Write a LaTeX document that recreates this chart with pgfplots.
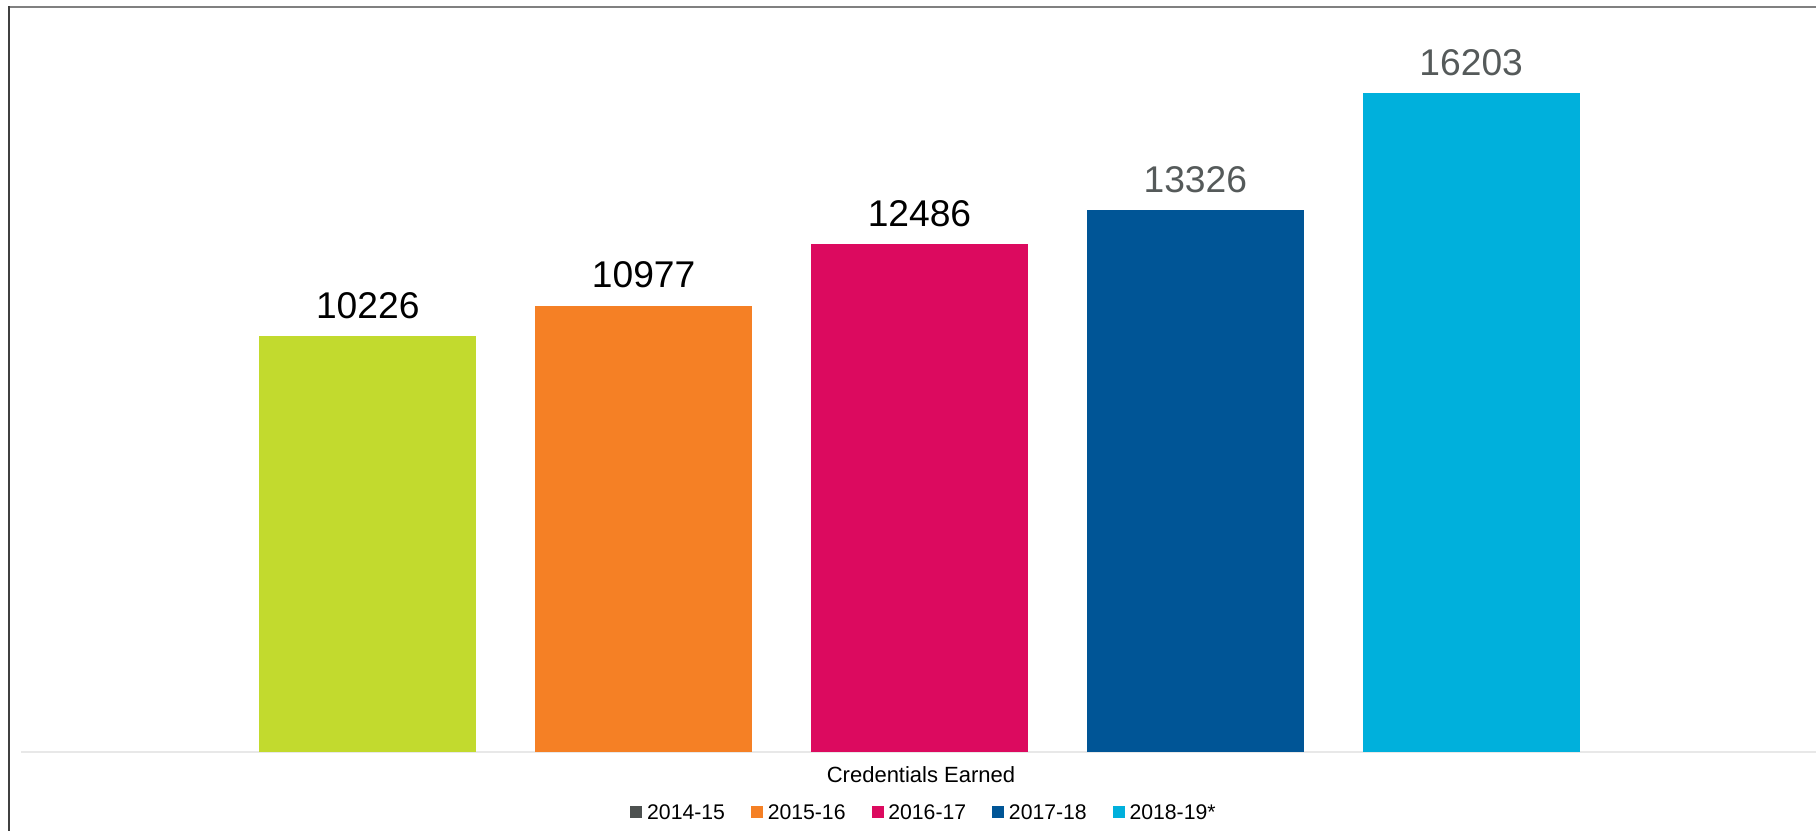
\documentclass[border=0pt]{standalone}
\usepackage{pgfplots}
\pgfplotsset{compat=1.18}
\usepackage{fontspec}
\setmainfont{Liberation Sans}
\definecolor{cA}{HTML}{C2DA2E}
\definecolor{cB}{HTML}{F58025}
\definecolor{cC}{HTML}{DC0A5F}
\definecolor{cD}{HTML}{005596}
\definecolor{cE}{HTML}{00B0DC}
\definecolor{cL}{HTML}{4D5150}
\definecolor{lbl}{HTML}{555A5A}
\pgfplotsset{sq/.style={legend image code/.code={\fill[#1] (0bp,-2.75bp) rectangle (5.5bp,2.75bp);}}}
\begin{document}
\begin{tikzpicture}
\path[use as bounding box] (0,0) rectangle (908bp,415.5bp);
\begin{axis}[
  at={(10.5bp,39.5bp)}, anchor=south west,
  scale only axis, width=897.5bp, height=366bp,
  hide axis, clip=false,
  ybar, bar width=108.5bp, bar shift=0pt,
  xmin=-1.257, xmax=5.25, ymin=0, ymax=18000,
  /pgf/number format/.cd, fixed, precision=0, 1000 sep={}, assume math mode=true, /pgfplots/.cd,
  nodes near coords,
  every node near coord/.append style={font=\fontsize{18.6bp}{21bp}\selectfont, anchor=south, inner sep=0pt, yshift=8.5bp},
  legend style={at={(0.5025,-0.082)}, anchor=center, draw=none, fill=none,
    font=\fontsize{10.6bp}{12bp}\selectfont, inner sep=0pt,
    nodes={inner sep=0pt, text depth=0pt},
    legend columns=5,
    /tikz/every odd column/.append style={column sep=2.5bp},
    /tikz/every even column/.append style={column sep=13bp}},
]
\draw[color=black!9, line width=0.75bp] (rel axis cs:0,0) -- (rel axis cs:1,0);
\addplot[fill=cA, draw=none, forget plot, every node near coord/.append style={text=black}] coordinates {(0,10226)};
\addplot[fill=cB, draw=none, forget plot, every node near coord/.append style={text=black}] coordinates {(1,10977)};
\addplot[fill=cC, draw=none, forget plot, every node near coord/.append style={text=black}] coordinates {(2,12486)};
\addplot[fill=cD, draw=none, forget plot, every node near coord/.append style={text=lbl}] coordinates {(3,13326)};
\addplot[fill=cE, draw=none, forget plot, every node near coord/.append style={text=lbl}] coordinates {(4,16203)};
\addlegendimage{sq=cL}\addlegendentry{2014-15}
\addlegendimage{sq=cB}\addlegendentry{2015-16}
\addlegendimage{sq=cC}\addlegendentry{2016-17}
\addlegendimage{sq=cD}\addlegendentry{2017-18}
\addlegendimage{sq=cE}\addlegendentry{2018-19*}
\end{axis}
\node[font=\fontsize{11bp}{13bp}\selectfont] at (460.5bp,28bp) {Credentials Earned};
\draw[color=black!50, line width=1bp] (4.5bp,412bp) -- (908bp,412bp);
\draw[color=black!75, line width=1bp] (4.5bp,0bp) -- (4.5bp,412.5bp);
\end{tikzpicture}
\end{document}
